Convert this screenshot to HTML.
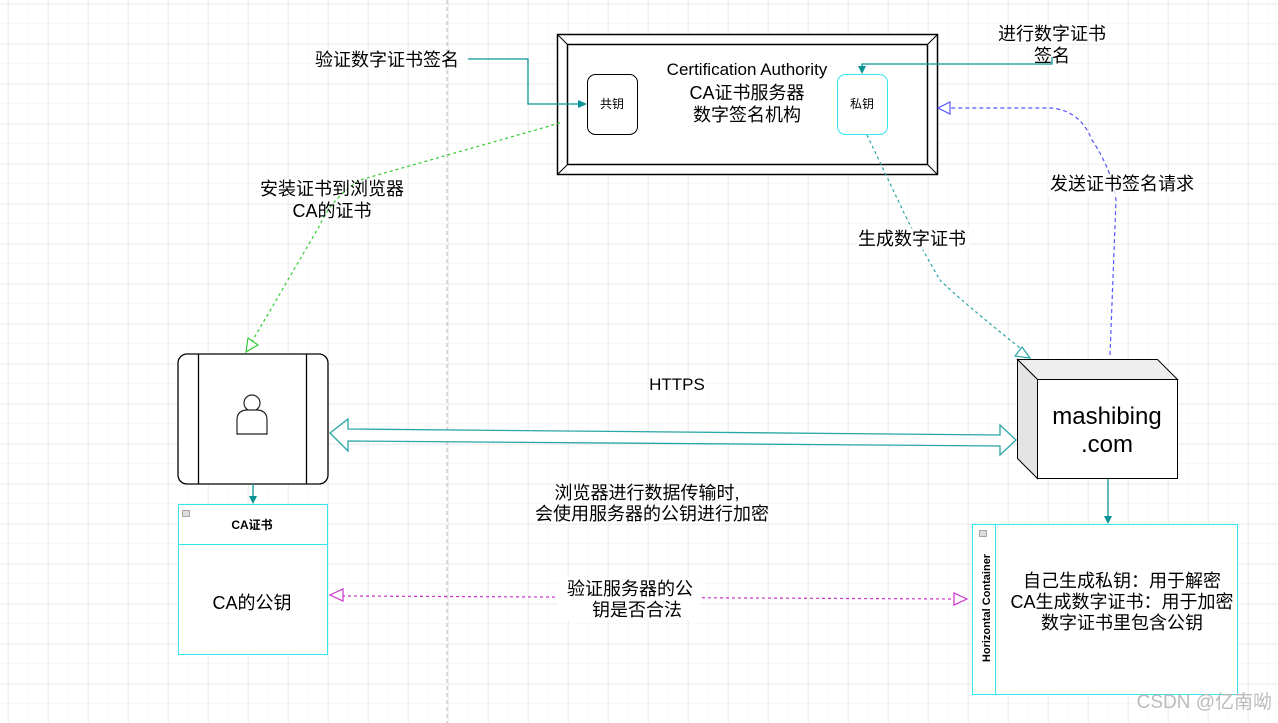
<!DOCTYPE html>
<html><head><meta charset="utf-8"><style>
html,body{margin:0;padding:0;background:#fff;}
svg{display:block;}
text{font-family:"Liberation Sans","Noto Sans CJK SC",sans-serif;fill:#000;}
</style></head><body>
<svg width="1278" height="723" viewBox="0 0 1278 723" xmlns="http://www.w3.org/2000/svg">
<defs>
<pattern id="g1" x="8" y="4" width="20" height="20" patternUnits="userSpaceOnUse"><path d="M20 0V20M0 20H20" stroke="#f2f2f2" stroke-width="1" fill="none"/></pattern>
<pattern id="g2" x="8" y="4" width="40" height="40" patternUnits="userSpaceOnUse"><path d="M0 0V40M0 0H40" stroke="#e3e3e3" stroke-width="1" fill="none"/></pattern>
</defs>
<rect width="1278" height="723" fill="url(#g1)"/>
<rect width="1278" height="723" fill="url(#g2)"/>
<line x1="447" y1="0" x2="447" y2="723" stroke="#bbb" stroke-dasharray="4,3"/>

<!-- CA box -->
<rect x="557.5" y="34.5" width="380" height="140" fill="#fff" stroke="#000" stroke-width="1.5"/>
<rect x="567.5" y="44.5" width="360" height="120" fill="#fff" stroke="#000" stroke-width="1.5"/>
<path d="M557.5 34.5L567.5 44.5M937.5 34.5L927.5 44.5M557.5 174.5L567.5 164.5M937.5 174.5L927.5 164.5" stroke="#000"/>
<rect x="587.5" y="74.5" width="50" height="60" rx="8" fill="#fff" stroke="#000"/>
<text x="612" y="108" font-size="12" text-anchor="middle">共钥</text>
<rect x="837.5" y="74.5" width="50" height="60" rx="8" fill="#fff" stroke="#33e6f0"/>
<text x="862" y="108" font-size="12" text-anchor="middle">私钥</text>
<text x="747" y="75" font-size="17" text-anchor="middle">Certification Authority</text>
<text x="747" y="99" font-size="18" text-anchor="middle">CA证书服务器</text>
<text x="747" y="121" font-size="18" text-anchor="middle">数字签名机构</text>

<!-- labels top -->
<text x="387" y="66" font-size="18" text-anchor="middle">验证数字证书签名</text>
<path d="M468 59H528V104H584" stroke="#0a9396" fill="none" stroke-width="1.3"/>
<path d="M587 104l-9-4v8z" fill="#0a9396"/>
<text x="1052" y="40" font-size="18" text-anchor="middle">进行数字证书</text>
<text x="1052" y="62" font-size="18" text-anchor="middle">签名</text>
<path d="M1052 57V64H862V70" stroke="#0a9396" fill="none" stroke-width="1.3"/>
<path d="M862 74l-4-8h8z" fill="#0a9396"/>

<!-- green install -->
<path d="M560 123L360 180Q330 200 320 225L250 345" stroke="#33cc33" stroke-dasharray="3,3" fill="none" stroke-width="1.2"/>
<path d="M246 352l2-14 10 7z" fill="#fff" stroke="#33cc33" stroke-width="1.2"/>
<text x="332" y="195" font-size="18" text-anchor="middle">安装证书到浏览器</text>
<text x="332" y="217" font-size="18" text-anchor="middle">CA的证书</text>

<!-- teal generate -->
<path d="M867 135L905 215Q925 255 940 280Q960 300 1025 352" stroke="#2aa6a6" stroke-dasharray="3,3" fill="none" stroke-width="1.2"/>
<path d="M1030 358l-15-2 7-9z" fill="#fff" stroke="#2aa6a6" stroke-width="1.2"/>
<rect x="856" y="228" width="114" height="22" fill="#fff" fill-opacity="0.8"/>
<text x="912" y="245" font-size="18" text-anchor="middle">生成数字证书</text>

<!-- blue request -->
<path d="M1110 355L1116 200Q1112 170 1092 140Q1080 110 1050 108H950" stroke="#5555ff" stroke-dasharray="4,3" fill="none" stroke-width="1.2"/>
<path d="M938 108l12-6v12z" fill="#fff" stroke="#5555ff" stroke-width="1.2"/>
<rect x="1048" y="174" width="148" height="22" fill="#fff" fill-opacity="0.8"/>
<text x="1122" y="190" font-size="18" text-anchor="middle">发送证书签名请求</text>

<!-- browser box -->
<rect x="178" y="354" width="150" height="130" rx="9" fill="#fff" stroke="#000" stroke-width="1.3"/>
<line x1="198.5" y1="354" x2="198.5" y2="484" stroke="#000" stroke-width="1.3"/>
<line x1="306.5" y1="354" x2="306.5" y2="484" stroke="#000" stroke-width="1.3"/>
<circle cx="252" cy="403" r="8" fill="#fff" stroke="#222" stroke-width="1.2"/>
<path d="M237 434V420Q237 411 246 410H258Q267 411 267 420V434Z" fill="#fff" stroke="#222" stroke-width="1.2"/>
<line x1="253" y1="484" x2="253" y2="500" stroke="#0a9396" stroke-width="1.3"/>
<path d="M253 504l-4-8h8z" fill="#0a9396"/>

<!-- CA cert container -->
<rect x="178.5" y="504.5" width="149" height="150" fill="#fff" stroke="#33e6f0"/>
<line x1="178" y1="544.5" x2="328" y2="544.5" stroke="#33e6f0"/>
<rect x="182.5" y="510.5" width="7" height="6" fill="#ddd" stroke="#888" stroke-width="0.7"/>
<text x="252" y="529" font-size="12" font-weight="bold" text-anchor="middle">CA证书</text>
<text x="252" y="609" font-size="18" text-anchor="middle">CA的公钥</text>

<!-- HTTPS -->
<text x="677" y="390" font-size="17" text-anchor="middle">HTTPS</text>
<path d="M330 433L348 419V429L1000 435V425L1016 440L1000 455V446L348 441V451Z" fill="#fff" stroke="#2aa6a6" stroke-width="1.3"/>
<text x="647" y="499" font-size="18" text-anchor="middle">浏览器进行数据传输时,</text>
<text x="652" y="520" font-size="18" text-anchor="middle">会使用服务器的公钥进行加密</text>

<!-- server cube -->
<path d="M1017.5 359.5H1157.5L1177.5 379.5H1037.5Z" fill="#eee" stroke="#000"/>
<path d="M1017.5 359.5L1037.5 379.5V478.5L1017.5 458.5Z" fill="#e4e4e4" stroke="#000"/>
<rect x="1037.5" y="379.5" width="140" height="99" fill="#fff" stroke="#000"/>
<text x="1107" y="424" font-size="24" text-anchor="middle">mashibing</text>
<text x="1107" y="452" font-size="24" text-anchor="middle">.com</text>
<line x1="1108" y1="479" x2="1108" y2="518" stroke="#0a9396" stroke-width="1.3"/>
<path d="M1108 524l-4-8h8z" fill="#0a9396"/>

<!-- right container -->
<rect x="972.5" y="524.5" width="265" height="170" fill="#fff" stroke="#33e6f0"/>
<line x1="995.5" y1="524" x2="995.5" y2="694" stroke="#33e6f0"/>
<rect x="979.5" y="530.5" width="7" height="6" fill="#ddd" stroke="#888" stroke-width="0.7"/>
<text transform="translate(990,608) rotate(-90)" font-size="11" font-weight="bold" text-anchor="middle">Horizontal Container</text>
<text x="1122" y="587" font-size="18" text-anchor="middle">自己生成私钥：用于解密</text>
<text x="1122" y="608" font-size="18" text-anchor="middle">CA生成数字证书：用于加密</text>
<text x="1122" y="629" font-size="18" text-anchor="middle">数字证书里包含公钥</text>

<!-- magenta -->
<line x1="342" y1="596" x2="955" y2="599" stroke="#cc33cc" stroke-dasharray="3,3" stroke-width="1.2"/>
<path d="M330 595l13-6v12z" fill="#fff" stroke="#cc33cc" stroke-width="1.2"/>
<path d="M967 599l-13-6v12z" fill="#fff" stroke="#cc33cc" stroke-width="1.2"/>
<rect x="558" y="578" width="142" height="42" fill="#fff"/>
<text x="630" y="595" font-size="18" text-anchor="middle">验证服务器的公</text>
<text x="637" y="616" font-size="18" text-anchor="middle">钥是否合法</text>

<text x="1272" y="708" font-size="19" text-anchor="end" style="fill:#bbb">CSDN @亿南呦</text>
</svg>
</body></html>
